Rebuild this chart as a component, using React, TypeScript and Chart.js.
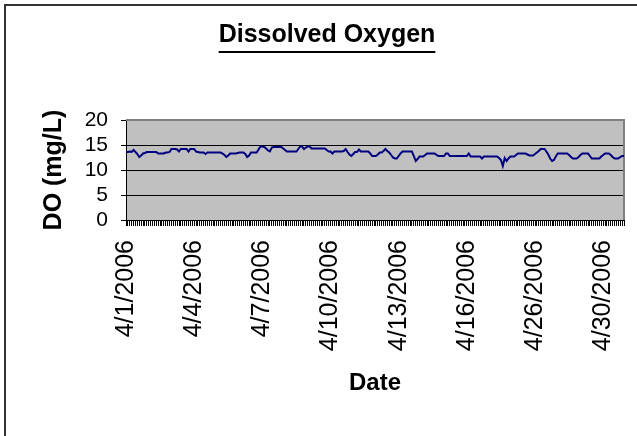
import React, { useEffect, useRef } from "react";
import { Chart, registerables } from "chart.js";

Chart.register(...registerables);

const chartTitle = "Dissolved Oxygen";
const yAxisTitle = "DO (mg/L)";
const xAxisTitle = "Date";

const tickDates = [
  "4/1/2006",
  "4/4/2006",
  "4/7/2006",
  "4/10/2006",
  "4/13/2006",
  "4/16/2006",
  "4/26/2006",
  "4/30/2006",
];
const labelInterval = 36;

const yMin = 0;
const yMax = 20;
const yStep = 5;

const doValues = [
  13.6, 13.6, 13.7, 13.6, 14.0, 13.6, 13.2, 12.6, 12.9, 13.3,
  13.4, 13.6, 13.6, 13.6, 13.6, 13.6, 13.6, 13.3, 13.3, 13.3,
  13.3, 13.5, 13.5, 13.6, 14.2, 14.2, 14.2, 14.1, 13.7, 14.2,
  14.2, 14.2, 14.2, 13.7, 14.2, 14.2, 14.2, 13.7, 13.6, 13.5,
  13.5, 13.5, 13.2, 13.5, 13.5, 13.5, 13.5, 13.5, 13.5, 13.5,
  13.5, 13.3, 13.0, 12.6, 12.9, 13.3, 13.3, 13.3, 13.3, 13.4,
  13.5, 13.5, 13.5, 13.2, 12.6, 12.9, 13.5, 13.5, 13.5, 13.5,
  14.1, 14.7, 14.7, 14.6, 14.3, 13.9, 13.7, 14.5, 14.6, 14.6,
  14.6, 14.6, 14.6, 14.3, 14.0, 13.7, 13.7, 13.7, 13.7, 13.7,
  13.7, 14.2, 14.7, 14.7, 14.2, 14.5, 14.7, 14.7, 14.3, 14.3,
  14.3, 14.3, 14.3, 14.3, 14.3, 14.3, 14.0, 13.7, 13.7, 13.3,
  13.7, 13.7, 13.7, 13.7, 13.7, 13.8, 14.2, 13.6, 13.1, 12.8,
  13.2, 13.6, 13.6, 14.1, 13.7, 13.7, 13.7, 13.7, 13.7, 13.3,
  12.8, 12.8, 12.8, 13.1, 13.5, 13.5, 13.8, 14.2, 13.8, 13.5,
  13.0, 12.5, 12.3, 12.3, 12.8, 13.3, 13.7, 13.7, 13.7, 13.7,
  13.7, 13.7, 12.8, 11.8, 12.2, 12.7, 12.7, 12.7, 13.0, 13.3,
  13.3, 13.3, 13.3, 13.3, 13.0, 12.8, 12.8, 12.8, 12.8, 13.3,
  13.3, 12.8, 12.8, 12.8, 12.8, 12.8, 12.8, 12.8, 12.8, 12.8,
  12.8, 13.3, 12.7, 12.7, 12.7, 12.7, 12.7, 12.7, 12.3, 12.7,
  12.7, 12.7, 12.7, 12.7, 12.7, 12.7, 12.7, 12.4, 12.0, 10.8,
  12.4, 11.8, 12.3, 12.7, 12.7, 12.7, 13.0, 13.3, 13.3, 13.3,
  13.3, 13.3, 13.1, 12.9, 12.9, 12.9, 13.2, 13.5, 13.8, 14.2,
  14.2, 14.2, 13.7, 13.1, 12.3, 11.8, 12.0, 12.7, 13.3, 13.3,
  13.3, 13.3, 13.3, 13.3, 13.0, 12.6, 12.3, 12.3, 12.3, 12.6,
  13.0, 13.3, 13.3, 13.3, 13.3, 12.8, 12.3, 12.3, 12.3, 12.3,
  12.3, 12.7, 13.0, 13.3, 13.3, 13.3, 13.0, 12.6, 12.3, 12.3,
  12.3, 12.6, 12.8, 12.8,
];

const categories = doValues.map(
  (_, i) => tickDates[Math.floor(i / labelInterval)]
);

const FONT = "'Liberation Sans', Arial, Helvetica, sans-serif";

const W = 637;
const H = 436;

const PAD_LEFT = 17;
const PLOT_LEFT = 126;
const PLOT_RIGHT = 624;
const PLOT_TOP = 120;
const PLOT_BOTTOM = 220;

const TITLE_SIZE = 25;
const TITLE_PAD_TOP = 20;
const TITLE_LH = 1.2;

const excelPlugin = {
  id: "excelLook",
  beforeDraw(chart: any) {
    const { ctx, chartArea: a } = chart;
    ctx.save();
    ctx.fillStyle = "#ffffff";
    ctx.fillRect(0, 0, chart.width, chart.height);
    ctx.strokeStyle = "#333333";
    ctx.lineWidth = 2;
    ctx.beginPath();
    ctx.moveTo(5, chart.height + 2);
    ctx.lineTo(5, 5);
    ctx.lineTo(chart.width + 2, 5);
    ctx.stroke();
    ctx.fillStyle = "#c0c0c0";
    ctx.fillRect(a.left, a.top, a.right - a.left, a.bottom - a.top);
    ctx.restore();
  },
  beforeDatasetsDraw(chart: any) {
    const { ctx, chartArea: a } = chart;
    ctx.save();
    ctx.strokeStyle = "#808080";
    ctx.lineWidth = 2;
    ctx.beginPath();
    ctx.moveTo(a.left, a.top);
    ctx.lineTo(a.right, a.top);
    ctx.lineTo(a.right, a.bottom);
    ctx.stroke();
    ctx.restore();
  },
  afterDraw(chart: any) {
    const { ctx } = chart;
    const tb = chart.titleBlock;
    if (!tb) return;
    ctx.save();
    ctx.font = `bold ${TITLE_SIZE}px ${FONT}`;
    const w = ctx.measureText(chartTitle).width;
    const cx = (tb.left + tb.right) / 2;
    const cy = tb.top + TITLE_PAD_TOP + (TITLE_SIZE * TITLE_LH) / 2;
    const y = Math.round(cy + 17);
    ctx.strokeStyle = "#000000";
    ctx.lineWidth = 2;
    ctx.beginPath();
    ctx.moveTo(cx - w / 2, y);
    ctx.lineTo(cx + w / 2, y);
    ctx.stroke();
    ctx.restore();
  },
};

export default function App() {
  const ref = useRef<HTMLCanvasElement | null>(null);

  useEffect(() => {
    if (!ref.current) return;
    const chart = new Chart(ref.current, {
      type: "line",
      data: {
        labels: categories,
        datasets: [
          {
            label: "DO",
            data: doValues,
            borderColor: "#000080",
            borderWidth: 2,
            pointRadius: 0,
            pointHoverRadius: 0,
            tension: 0,
            fill: false,
          },
        ],
      },
      options: {
        responsive: false,
        animation: false,
        layout: { padding: { left: PAD_LEFT, right: 0, top: 0, bottom: 0 } },
        plugins: {
          legend: { display: false },
          tooltip: { enabled: false },
          title: {
            display: true,
            text: chartTitle,
            color: "#000000",
            font: { family: FONT, size: TITLE_SIZE, weight: "bold", lineHeight: TITLE_LH },
            padding: {
              top: TITLE_PAD_TOP,
              bottom: PLOT_TOP - TITLE_PAD_TOP - TITLE_SIZE * TITLE_LH,
            },
          },
        },
        scales: {
          x: {
            type: "category",
            offset: false,
            afterFit: (s: any) => {
              s.height = H - PLOT_BOTTOM;
              s.paddingLeft = 0;
              s.paddingRight = W - PLOT_RIGHT;
            },
            grid: {
              display: true,
              drawOnChartArea: false,
              drawTicks: true,
              tickLength: 6,
              color: "#000000",
              lineWidth: 1,
            },
            border: { display: true, color: "#000000", width: 1 },
            ticks: {
              autoSkip: false,
              maxRotation: 90,
              minRotation: 90,
              padding: 14,
              color: "#000000",
              font: { family: FONT, size: 25 },
              callback: function (this: any, value: any, index: number) {
                return index % labelInterval === 0 ? this.getLabelForValue(value) : "";
              },
            },
            title: {
              display: true,
              text: xAxisTitle,
              color: "#000000",
              font: { family: FONT, size: 24, weight: "bold", lineHeight: 1.2 },
              padding: { top: 0, bottom: 38 },
            },
          },
          y: {
            min: yMin,
            max: yMax,
            afterFit: (s: any) => {
              s.width = PLOT_LEFT - PAD_LEFT;
            },
            grid: {
              display: true,
              drawOnChartArea: true,
              drawTicks: true,
              tickLength: 5,
              color: "#000000",
              lineWidth: 1,
            },
            border: { display: true, color: "#000000", width: 1 },
            ticks: {
              stepSize: yStep,
              autoSkip: false,
              padding: 13,
              color: "#000000",
              font: { family: FONT, size: 21 },
            },
            title: {
              display: true,
              text: yAxisTitle,
              color: "#000000",
              font: { family: FONT, size: 25, weight: "bold", lineHeight: 1.2 },
              padding: { top: 22, bottom: 0 },
            },
          },
        },
      },
      plugins: [excelPlugin],
    });
    return () => chart.destroy();
  }, []);

  return (
    <canvas
      ref={ref}
      width={W}
      height={H}
      style={{ position: "absolute", left: 0, top: 0, width: W, height: H }}
    />
  );
}
